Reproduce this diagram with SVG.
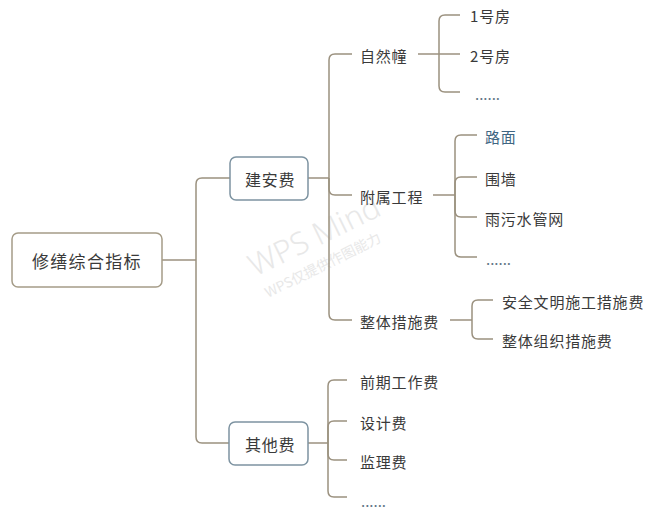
<svg xmlns="http://www.w3.org/2000/svg" width="658" height="509" viewBox="0 0 658 509">
<style>
.bg{fill:#ffffff}
.ln{fill:none;stroke:#9b917f;stroke-width:1.5}
.root{fill:#ffffff;stroke:#a59c88;stroke-width:1.5}
.sub{fill:#ffffff;stroke:#7d93a1;stroke-width:1.5}
text{font-family:"Noto Sans CJK SC","Microsoft YaHei",sans-serif;fill:#3a3a3a;dominant-baseline:central}
.t17{font-size:17px;letter-spacing:1.3px}
.t16{font-size:16px;letter-spacing:0.7px}
.t15{font-size:15px;letter-spacing:0.8px}
.blue{fill:#3f6683}
.dots{fill:#5f7585;letter-spacing:0px}
.wm{fill:#e8e8e8;font-family:"Noto Sans","Open Sans",sans-serif;font-weight:300;dominant-baseline:alphabetic}
.wm2{fill:#e8e8e8;font-family:"Noto Sans CJK SC",sans-serif;dominant-baseline:alphabetic}
</style>
<rect class="bg" x="0" y="0" width="658" height="509"/>
<g id="watermark">
<text class="wm" x="0" y="0" font-size="31" transform="translate(255,277) rotate(-26)">WPS Mind</text>
<text class="wm2" x="0" y="0" font-size="14" transform="translate(268,298) rotate(-26.5)">WPS仅提供作图能力</text>
</g>
<g id="connectors">
<path class="ln" d="M162,260 H196"/>
<path class="ln" d="M196,260 V184 Q196,178 202,178 H230"/>
<path class="ln" d="M196,260 V437 Q196,443 202,443 H229"/>
<path class="ln" d="M308,178 H329"/>
<path class="ln" d="M329,178 V60 Q329,54 335,54 H352"/>
<path class="ln" d="M329,178 V189 Q329,195 335,195 H352"/>
<path class="ln" d="M329,178 V314 Q329,320 335,320 H352"/>
<path class="ln" d="M418,54 H439"/>
<path class="ln" d="M439,54 V21 Q439,15 445,15 H460"/>
<path class="ln" d="M439,54 H460"/>
<path class="ln" d="M439,54 V86 Q439,92 445,92 H460"/>
<path class="ln" d="M433,195 H455"/>
<path class="ln" d="M455,195 V141 Q455,135 461,135 H477"/>
<path class="ln" d="M455,195 V183 Q455,177 461,177 H477"/>
<path class="ln" d="M455,195 V211 Q455,217 461,217 H477"/>
<path class="ln" d="M455,195 V251 Q455,257 461,257 H477"/>
<path class="ln" d="M450,320 H472"/>
<path class="ln" d="M472,320 V306 Q472,300 478,300 H493"/>
<path class="ln" d="M472,320 V333 Q472,339 478,339 H493"/>
<path class="ln" d="M308,443 H328"/>
<path class="ln" d="M328,443 V386 Q328,380 334,380 H347"/>
<path class="ln" d="M328,443 V427 Q328,421 334,421 H347"/>
<path class="ln" d="M328,443 V454 Q328,460 334,460 H347"/>
<path class="ln" d="M328,443 V491 Q328,497 334,497 H347"/>
</g>
<g id="root">
<rect class="root" x="12" y="233" width="150" height="54" rx="6"/>
<text class="t17" x="32" y="260">修缮综合指标</text>
</g>
<g id="jianan">
<rect class="sub" x="230" y="157" width="78" height="43" rx="6"/>
<text class="t16" x="245" y="178.5">建安费</text>
</g>
<g id="qita">
<rect class="sub" x="229" y="422" width="79" height="43" rx="6"/>
<text class="t16" x="245" y="443.5">其他费</text>
</g>
<g id="ziranchuang"><text class="t15" x="360" y="55">自然幢</text></g>
<g id="fang1"><text class="t15" x="470" y="15">1号房</text></g>
<g id="fang2"><text class="t15" x="470" y="55">2号房</text></g>
<g id="fangmore"><text class="t15 dots" x="475" y="93">......</text></g>
<g id="fushu"><text class="t15" x="360" y="196">附属工程</text></g>
<g id="lumian"><text class="t15 blue" x="485" y="136">路面</text></g>
<g id="weiqiang"><text class="t15" x="485" y="178">围墙</text></g>
<g id="yuwu"><text class="t15" x="485" y="218">雨污水管网</text></g>
<g id="fushumore"><text class="t15 dots" x="486" y="258">......</text></g>
<g id="zhengti"><text class="t15" x="360" y="321">整体措施费</text></g>
<g id="anquan"><text class="t15" x="502" y="301">安全文明施工措施费</text></g>
<g id="zuzhi"><text class="t15" x="502" y="340">整体组织措施费</text></g>
<g id="qianqi"><text class="t15" x="360" y="381">前期工作费</text></g>
<g id="sheji"><text class="t15" x="360" y="422">设计费</text></g>
<g id="jianli"><text class="t15" x="360" y="461">监理费</text></g>
<g id="qitamore"><text class="t15 dots" x="361" y="500">......</text></g>
</svg>
